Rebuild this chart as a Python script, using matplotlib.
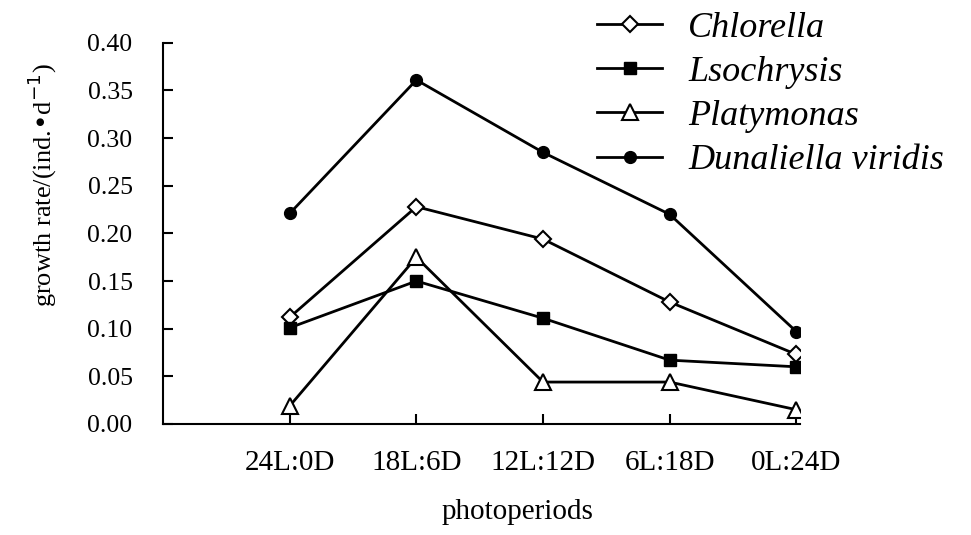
import matplotlib.pyplot as plt

plt.rcParams['font.family'] = ['Liberation Serif', 'DejaVu Serif']

periods = ['24L:0D', '18L:6D', '12L:12D', '6L:18D', '0L:24D']

chlorella = [0.112, 0.228, 0.194, 0.128, 0.073]
lsochrysis = [0.101, 0.150, 0.111, 0.067, 0.060]
platymonas = [0.019, 0.175, 0.044, 0.044, 0.015]
dunaliella = [0.221, 0.361, 0.285, 0.220, 0.097]

fig = plt.figure(figsize=(9.71, 5.35), dpi=100)
ax = fig.add_axes([0.168, 0.2075, 0.656, 0.7125])

x = [1, 2, 3, 4, 5]
ax.plot(x, chlorella, color='black', lw=2, marker='D', ms=8, mfc='white', mec='black', mew=1.5, label='Chlorella')
ax.plot(x, lsochrysis, color='black', lw=2, marker='s', ms=8, mfc='black', mec='black', label='Lsochrysis')
ax.plot(x, platymonas, color='black', lw=2, marker='^', ms=12, mfc='white', mec='black', mew=1.5, label='Platymonas')
ax.plot(x, dunaliella, color='black', lw=2, marker='o', ms=8.5, mfc='black', mec='black', label='Dunaliella viridis')

ax.set_xlim(0, 5.03)
ax.set_ylim(0, 0.40)
ax.set_xticks(x)
ax.set_xticklabels(periods, fontsize=21)
ax.set_yticks([0, 0.05, 0.10, 0.15, 0.20, 0.25, 0.30, 0.35, 0.40])
ax.set_yticklabels(['%.2f' % v for v in ax.get_yticks()], fontsize=18.5)
ax.tick_params(direction='in', length=7, width=1.5)
ax.tick_params(axis='y', pad=22)
ax.tick_params(axis='x', pad=19)
ax.spines['top'].set_visible(False)
ax.spines['right'].set_visible(False)
ax.spines['left'].set_linewidth(1.5)
ax.spines['bottom'].set_linewidth(1.5)

ax.set_xlabel('photoperiods', fontsize=21, va='center')
ax.xaxis.set_label_coords(0.557, -0.23)
ax.set_ylabel('growth rate/(ind.\u2022d$^{-1}$)', fontsize=19, va='center')
ax.yaxis.set_label_coords(-0.19, 0.627)

leg = fig.legend(loc='upper left', bbox_to_anchor=(0.5815, 1.039), frameon=False,
                 prop={'style': 'italic', 'size': 26}, handlelength=1.8,
                 labelspacing=0.3, handletextpad=0.72)

fig.savefig('out.png', dpi=100)
